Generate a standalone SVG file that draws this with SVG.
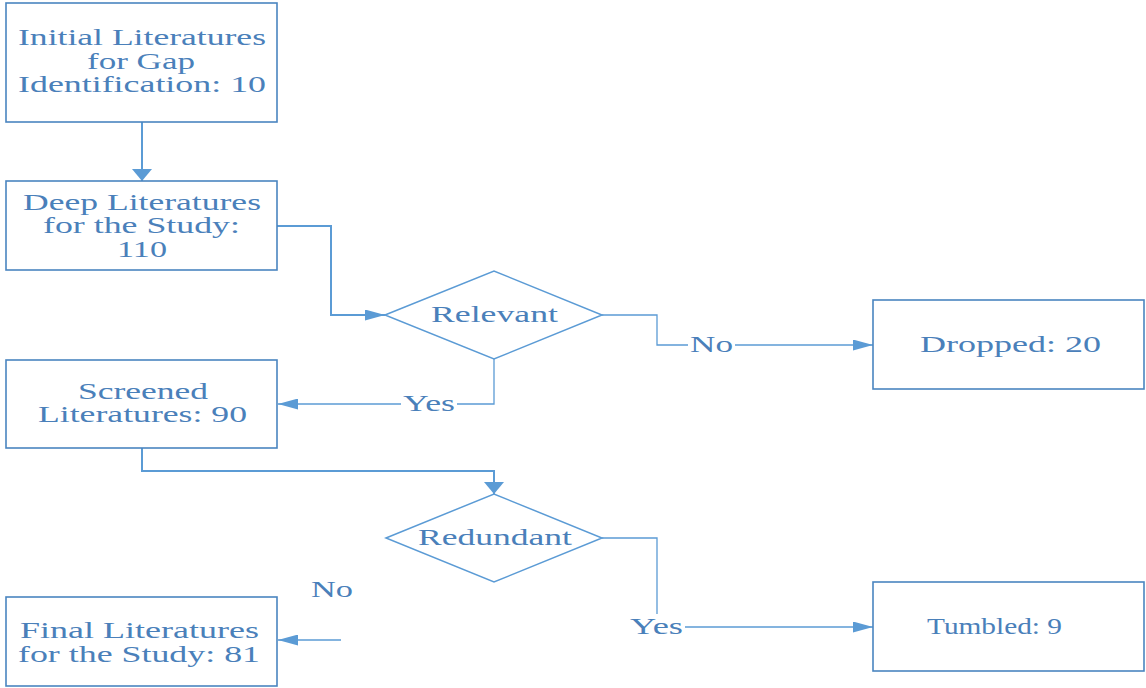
<svg xmlns="http://www.w3.org/2000/svg" width="1146" height="688" viewBox="0 0 1146 688">
  <defs>
    <!-- horizontal arrowhead: long and slim -->
    <marker id="arrowH" viewBox="0 0 20 11" refX="20" refY="5.5" markerWidth="20" markerHeight="11" markerUnits="userSpaceOnUse" orient="auto">
      <path d="M0,0 L20,5.5 L0,11 z" fill="#5B9BD5"/>
    </marker>
    <!-- vertical arrowhead: short and wide -->
    <marker id="arrowV" viewBox="0 0 12 20" refX="12" refY="10" markerWidth="12" markerHeight="20" markerUnits="userSpaceOnUse" orient="auto">
      <path d="M0,0 L12,10 L0,20 z" fill="#5B9BD5"/>
    </marker>
  </defs>
  <style>
    .box { fill: #ffffff; stroke: #4A85C0; stroke-width: 1.6; }
    .dia { fill: #ffffff; stroke: #5B9BD5; stroke-width: 1.5; }
    .conn { fill: none; stroke: #5B9BD5; stroke-width: 2; }
    .thin { fill: none; stroke: #5B9BD5; stroke-width: 1.3; }
    text { font-family: "Liberation Serif", "Times New Roman", serif; font-size: 22.5px; fill: #4A80BA; }
  </style>
  <rect width="1146" height="688" fill="#ffffff"/>

  <!-- connectors and their labels -->
  <g id="connectors">
    <path class="conn" d="M142,122 V181" marker-end="url(#arrowV)"/>
    <path class="conn" d="M277,226 H331 V315 H385" marker-end="url(#arrowH)"/>
    <path class="thin" d="M602,315 H657 V345 H688"/>
    <path class="thin" d="M735,345 H873" marker-end="url(#arrowH)"/>
    <path class="thin" d="M494,359 V404 H457"/>
    <path class="thin" d="M401,404 H278" marker-end="url(#arrowH)"/>
    <path class="conn" d="M142,448 V471 H494 V494" marker-end="url(#arrowV)"/>
    <path class="thin" d="M602,538 H657 V614"/>
    <path class="thin" d="M685,627 H873" marker-end="url(#arrowH)"/>
    <path class="thin" d="M341,640 H278" marker-end="url(#arrowH)"/>
    <text x="690" y="352" textLength="43" lengthAdjust="spacingAndGlyphs">No</text>
    <text x="403" y="411" textLength="52" lengthAdjust="spacingAndGlyphs">Yes</text>
    <text x="630" y="634" textLength="53" lengthAdjust="spacingAndGlyphs">Yes</text>
    <text x="311" y="597" textLength="42" lengthAdjust="spacingAndGlyphs">No</text>
  </g>

  <!-- process steps and decisions -->
  <g id="initial">
    <rect class="box" x="6" y="3" width="271" height="119"/>
    <text x="18" y="45" textLength="248" lengthAdjust="spacingAndGlyphs">Initial Literatures</text>
    <text x="87" y="69" textLength="108" lengthAdjust="spacingAndGlyphs">for Gap</text>
    <text x="18" y="92" textLength="248" lengthAdjust="spacingAndGlyphs">Identification: 10</text>
  </g>
  <g id="deep">
    <rect class="box" x="6" y="181" width="271" height="89"/>
    <text x="23" y="210" textLength="238" lengthAdjust="spacingAndGlyphs">Deep Literatures</text>
    <text x="43" y="233" textLength="197" lengthAdjust="spacingAndGlyphs">for the Study:</text>
    <text x="117" y="257" textLength="50" lengthAdjust="spacingAndGlyphs">110</text>
  </g>
  <g id="relevant">
    <polygon class="dia" points="385,315 494,271 602,315 494,359"/>
    <text x="431" y="322" textLength="127" lengthAdjust="spacingAndGlyphs">Relevant</text>
  </g>
  <g id="dropped">
    <rect class="box" x="873" y="300" width="271" height="89"/>
    <text x="920" y="352" textLength="181" lengthAdjust="spacingAndGlyphs">Dropped: 20</text>
  </g>
  <g id="screened">
    <rect class="box" x="6" y="360" width="271" height="88"/>
    <text x="78" y="399" textLength="130" lengthAdjust="spacingAndGlyphs">Screened</text>
    <text x="38" y="422" textLength="209" lengthAdjust="spacingAndGlyphs">Literatures: 90</text>
  </g>
  <g id="redundant">
    <polygon class="dia" points="386,538 494,494 602,538 494,582"/>
    <text x="418" y="545" textLength="154" lengthAdjust="spacingAndGlyphs">Redundant</text>
  </g>
  <g id="tumbled">
    <rect class="box" x="873" y="582" width="271" height="89"/>
    <text x="927" y="634" textLength="135" lengthAdjust="spacingAndGlyphs">Tumbled: 9</text>
  </g>
  <g id="final">
    <rect class="box" x="6" y="597" width="271" height="89"/>
    <text x="20" y="638" textLength="239" lengthAdjust="spacingAndGlyphs">Final Literatures</text>
    <text x="18" y="662" textLength="242" lengthAdjust="spacingAndGlyphs">for the Study: 81</text>
  </g>
</svg>
